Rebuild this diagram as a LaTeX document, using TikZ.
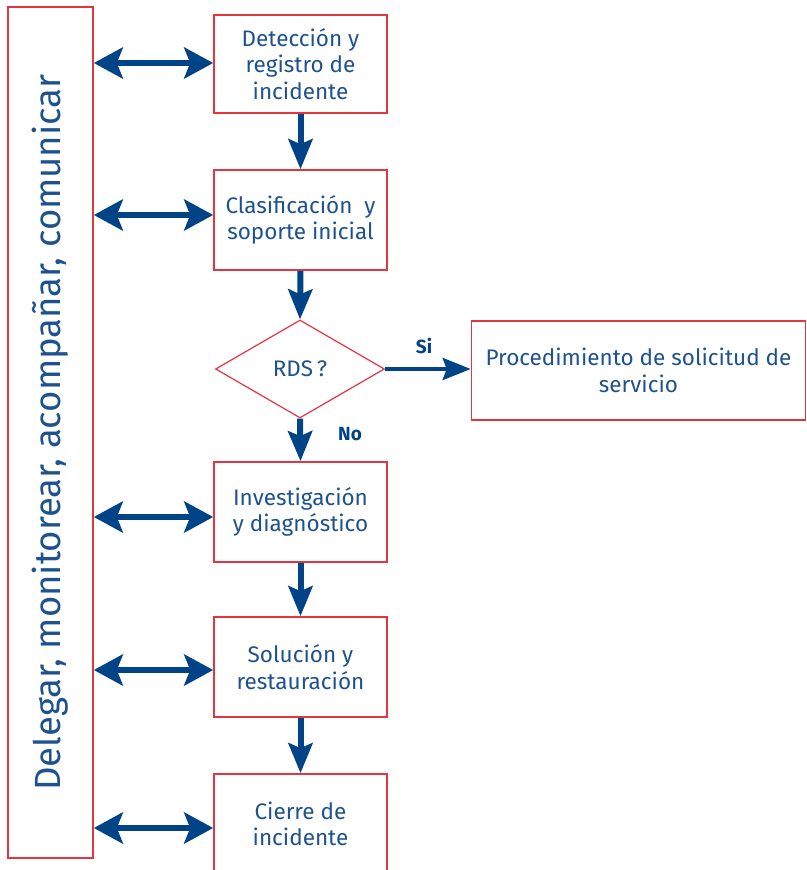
\documentclass[tikz,border=0pt]{standalone}
\usepackage{fontspec}
\setmainfont{Fira Sans}
\usetikzlibrary{arrows.meta,shapes.geometric}
\definecolor{txtblue}{RGB}{30,82,142}
\definecolor{arrblue}{RGB}{0,68,135}
\definecolor{boxred}{RGB}{228,52,62}
\begin{document}
\begin{tikzpicture}[x=1pt,y=-1pt,
  stepbox/.style={draw=boxred, line width=1.6pt, minimum width=173pt, minimum height=99pt,
    inner sep=2pt, align=center, text=txtblue, font=\fontsize{22.5}{26.5}\selectfont},
  decision/.style={diamond, draw=boxred, line width=1.2pt, minimum width=169pt, minimum height=98pt,
    inner sep=0pt, aspect=1.72, text=txtblue, font=\fontsize{22.5}{26.5}\selectfont},
  dblarrow/.style={draw=arrblue, line width=6pt,
    {Stealth[length=29pt,width=31pt,inset=6pt]}-{Stealth[length=29pt,width=31pt,inset=6pt]}},
  downarrow/.style={draw=arrblue, line width=6pt, -{Stealth[length=30pt,width=24pt,inset=5pt]}},
  siarrow/.style={draw=arrblue, line width=4pt, -{Stealth[length=28pt,width=22pt,inset=4pt]}},
  lbl/.style={text=arrblue, font=\fontsize{19}{21}\selectfont\bfseries}
]
\useasboundingbox (0,0) rectangle (806,870);
\clip (0,0) rectangle (806,870);

\node[draw=boxred, line width=1.6pt, minimum width=85pt, minimum height=851pt, inner sep=0pt] (L) at (50.5,432.5) {};
\node[rotate=90, text=txtblue, font=\fontsize{36.5}{40}\selectfont] (Ltxt) at (L.center) {Delegar, monitorear, acompañar, comunicar};

\node[stepbox, minimum height=98pt] (b1) at (300.5,64) {Detección y\\registro de\\incidente};
\node[stepbox, minimum height=100pt] (b2) at (300.5,220) {Clasificación~ y\\soporte inicial};
\node[decision] (d) at (300,369) {RDS\,?};
\node[stepbox, minimum height=100pt] (b3) at (300.5,512) {Investigación\\y diagnóstico};
\node[stepbox, minimum height=100pt] (b4) at (300.5,667) {Solución y\\restauración};
\node[stepbox, minimum height=100pt] (b5) at (300.5,824) {Cierre de\\incidente};
\node[stepbox, minimum width=334pt, minimum height=99pt] (r) at (638.5,370.5) {Procedimiento de solicitud de\\servicio};

\draw[dblarrow] (L.east |- 0,63) -- (b1.west |- 0,63);
\draw[dblarrow] (L.east |- 0,215) -- (b2.west |- 0,215);
\draw[dblarrow] (L.east |- 0,517) -- (b3.west |- 0,517);
\draw[dblarrow] (L.east |- 0,670) -- (b4.west |- 0,670);
\draw[dblarrow] (L.east |- 0,828) -- (b5.west |- 0,828);

\draw[downarrow] (b1.south) -- (b2.north);
\draw[downarrow] (b2.south) -- (d.north);
\draw[downarrow] (d.south) -- (b3.north);
\draw[downarrow] (b3.south) -- (b4.north);
\draw[downarrow] (b4.south) -- (b5.north);
\draw[siarrow] (d.east) -- (r.west |- d.east);

\node[lbl] (si) at (424,346) {Si};
\node[lbl] (no) at (350,434) {No};
\end{tikzpicture}
\end{document}
